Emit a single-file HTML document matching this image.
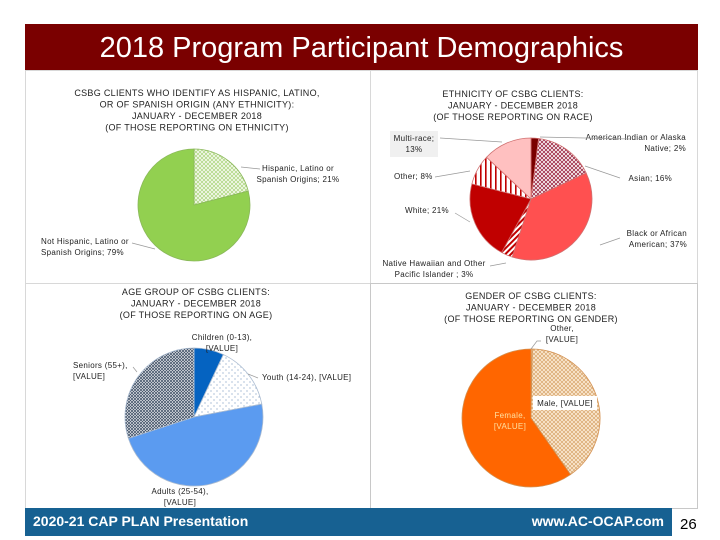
<!DOCTYPE html>
<html><head><meta charset="utf-8">
<style>
body{margin:0;width:720px;height:540px;background:#fff;position:relative;overflow:hidden;font-family:"Liberation Sans",sans-serif}
.abs{position:absolute}
#titlebar{left:25px;top:24px;width:673px;height:46px;background:#7a0000;color:#fff;font-size:29px;text-align:center;line-height:48px;border-bottom:2px solid #e8b0b0}
.panel{position:absolute;border:1px solid #d8d8d8;box-sizing:border-box;background:#fff}
#footer{left:25px;top:508px;width:647px;height:28px;background:#176192;color:#fff;font-weight:bold;font-size:14px}
</style></head><body>
<div id="titlebar" class="abs">2018 Program Participant Demographics</div>
<div class="panel" style="left:25px;top:70px;width:346px;height:214px"></div>
<div class="panel" style="left:370px;top:70px;width:328px;height:214px"></div>
<div class="panel" style="left:25px;top:283px;width:346px;height:226px"></div>
<div class="panel" style="left:370px;top:283px;width:328px;height:226px;border-color:#c8c8c8"></div>
<div id="footer" class="abs">
 <span class="abs" style="left:8px;top:5px">2020-21 CAP PLAN Presentation</span>
 <span class="abs" style="right:8px;top:5px">www.AC-OCAP.com</span>
</div>
<div class="abs" style="left:680px;top:516px;font-size:15px">26</div>

<svg id="charts" class="abs" style="left:0;top:0" width="720" height="540" font-family="Liberation Sans, sans-serif">
<defs>
 <pattern id="pGreenDots" width="4" height="4" patternUnits="userSpaceOnUse"><rect width="4" height="4" fill="#f2f8e8"/><path d="M0 0L4 4M4 0L0 4" stroke="#9fcf6a" stroke-width="0.6"/></pattern>
 <pattern id="pCheckRed" width="4" height="4" patternUnits="userSpaceOnUse"><rect width="4" height="4" fill="#fff"/><path d="M0 0L4 4M4 0L0 4" stroke="#a0304a" stroke-width="0.9"/></pattern>
 <pattern id="pVert" width="5" height="5" patternUnits="userSpaceOnUse"><rect width="5" height="5" fill="#fff"/><rect width="1.6" height="5" fill="#c00000"/></pattern>
 <pattern id="pDiag" width="4" height="4" patternUnits="userSpaceOnUse" patternTransform="rotate(45)"><rect width="4" height="4" fill="#fff"/><rect width="2" height="4" fill="#c00000"/></pattern>
 <pattern id="pDots" width="6" height="6" patternUnits="userSpaceOnUse"><rect width="6" height="6" fill="#fff"/><circle cx="1" cy="1" r="0.6" fill="#7a9cc0"/><circle cx="4" cy="4" r="0.6" fill="#7a9cc0"/></pattern>
 <pattern id="pCheckBlue" width="3" height="3" patternUnits="userSpaceOnUse"><rect width="3" height="3" fill="#fff"/><path d="M0 0L3 3M3 0L0 3" stroke="#44546a" stroke-width="0.8"/></pattern>
 <pattern id="pCheckTan" width="4" height="4" patternUnits="userSpaceOnUse"><rect width="4" height="4" fill="#fbe9d2"/><path d="M0 0L4 4M4 0L0 4" stroke="#d7a56b" stroke-width="0.7"/></pattern>
</defs>
<g id="g1"></g><g id="g2"></g><g id="g3"></g><g id="g4"></g>
</svg>

<script>
// Chart 1: Hispanic
const hispLabels = ["Hispanic, Latino or Spanish Origins; 21%", "Not Hispanic, Latino or Spanish Origins; 79%"];
const hispValues = [21, 79];
// Chart 2: Ethnicity
const ethLabels = ["American Indian or Alaska Native; 2%", "Asian; 16%", "Black or African American; 37%", "Native Hawaiian and Other Pacific Islander ; 3%", "White; 21%", "Other; 8%", "Multi-race; 13%"];
const ethValues = [2, 16, 37, 3, 21, 8, 13];
// Chart 3: Age
const ageLabels = ["Children (0-13), [VALUE]", "Youth (14-24), [VALUE]", "Adults (25-54), [VALUE]", "Seniors (55+), [VALUE]"];
const ageValues = [7, 15, 48, 30];
// Chart 4: Gender
const genLabels = ["Other, [VALUE]", "Male, [VALUE]", "Female, [VALUE]"];
const genValues = [0.3, 40, 59.7];

const NS = "http://www.w3.org/2000/svg";
function mk(tag, attrs, parent){const e=document.createElementNS(NS,tag);for(const k in attrs)e.setAttribute(k,attrs[k]);parent.appendChild(e);return e;}
function angleScale(values){const t=values.reduce((a,b)=>a+b,0);let c=0;return values.map(v=>{const a0=c/t*2*Math.PI;c+=v;return [a0,c/t*2*Math.PI];});}
function pt(cx,cy,r,a){return [cx+r*Math.sin(a),cy-r*Math.cos(a)];}
function drawPie(gid,cx,cy,r,values,fills,names,stroke){
 const g=document.getElementById(gid);
 angleScale(values).forEach(([a0,a1],i)=>{
  const p0=pt(cx,cy,r,a0),p1=pt(cx,cy,r,a1);const large=(a1-a0)>Math.PI?1:0;
  const p=mk("path",{d:`M${cx},${cy}L${p0[0]},${p0[1]}A${r},${r} 0 ${large} 1 ${p1[0]},${p1[1]}Z`,fill:fills[i],stroke:stroke,"stroke-width":"0.8"},g);
  
  
 });
}
function txt(gid,x,y,lines,anchor,opts){
 const g=document.getElementById(gid);
 const t=mk("text",{x:x,y:y,"font-size":(opts&&opts.size)||8,"text-anchor":anchor||"middle",fill:(opts&&opts.fill)||"#222","letter-spacing":"0.3"},g);
 lines.forEach((l,i)=>{const s=mk("tspan",{x:x,dy:i?((opts&&opts.lh)||11):0},t);s.textContent=l;});
 
 
 return t;
}
function line(gid,pts){const l=mk("polyline",{points:pts,fill:"none",stroke:"#999","stroke-width":"0.7"},document.getElementById(gid));}

// Chart 1
txt("g1",197,96,["CSBG CLIENTS WHO IDENTIFY AS HISPANIC, LATINO,","OR OF SPANISH ORIGIN (ANY ETHNICITY):","JANUARY - DECEMBER 2018","(OF THOSE REPORTING ON ETHNICITY)"],"middle",{size:9,lh:11.5,name:"hispanic-chart-title"});
drawPie("g1",194,205,56,hispValues,["url(#pGreenDots)","#92d050"],["slice-hispanic","slice-not-hispanic"],"#8ab85a");
txt("g1",298,171,["Hispanic, Latino or","Spanish Origins; 21%"],"middle",{name:"label-hispanic"});
txt("g1",41,244,["Not Hispanic, Latino or","Spanish Origins; 79%"],"start",{name:"label-not-hispanic"});
line("g1","241,167 260,169"); line("g1","132,243 155,249");

// Chart 2
txt("g2",513,97,["ETHNICITY OF CSBG CLIENTS:","JANUARY - DECEMBER 2018","(OF THOSE REPORTING ON RACE)"],"middle",{size:9,lh:11.5,name:"ethnicity-chart-title"});
drawPie("g2",531,199,61,ethValues,["#7a0000","url(#pCheckRed)","#ff5050","url(#pDiag)","#c00000","url(#pVert)","#ffc0c0"],["slice-american-indian","slice-asian","slice-black","slice-native-hawaiian","slice-white","slice-other","slice-multi-race"],"#d07070");
const mr=mk("rect",{x:390,y:131,width:48,height:26,fill:"#f0f0f0"},document.getElementById("g2"));
txt("g2",414,141,["Multi-race;","13%"],"middle",{name:"label-multi-race"});
txt("g2",686,140,["American Indian or Alaska","Native; 2%"],"end",{name:"label-american-indian"});
txt("g2",672,181,["Asian; 16%"],"end",{name:"label-asian"});
txt("g2",687,236,["Black or African","American; 37%"],"end",{name:"label-black"});
txt("g2",434,266,["Native Hawaiian and Other","Pacific Islander ; 3%"],"middle",{name:"label-native-hawaiian"});
txt("g2",405,213,["White; 21%"],"start",{name:"label-white"});
txt("g2",394,179,["Other; 8%"],"start",{name:"label-other"});
line("g2","440,138 502,142"); line("g2","540,137 630,139"); line("g2","585,166 620,178"); line("g2","600,245 620,238"); line("g2","455,213 470,222"); line("g2","435,177 470,171"); line("g2","490,266 506,263");

// Chart 3
txt("g3",196,295,["AGE GROUP OF CSBG CLIENTS:","JANUARY - DECEMBER 2018","(OF THOSE REPORTING ON AGE)"],"middle",{size:9,lh:11.5,name:"age-chart-title"});
drawPie("g3",194,417,69,ageValues,["#0563c1","url(#pDots)","#5b9bf0","url(#pCheckBlue)"],["slice-children","slice-youth","slice-adults","slice-seniors"],"#aabbd0");
txt("g3",222,340,["Children (0-13),","[VALUE]"],"middle",{name:"label-children"});
txt("g3",262,380,["Youth (14-24), [VALUE]"],"start",{name:"label-youth"});
txt("g3",73,368,["Seniors (55+),","[VALUE]"],"start",{name:"label-seniors"});
txt("g3",180,494,["Adults (25-54),","[VALUE]"],"middle",{name:"label-adults"});
line("g3","258,378 248,374"); line("g3","133,367 137,372");

// Chart 4
txt("g4",531,299,["GENDER OF CSBG CLIENTS:","JANUARY - DECEMBER 2018","(OF THOSE REPORTING ON GENDER)"],"middle",{size:9,lh:11.5,name:"gender-chart-title"});
drawPie("g4",531,418,69,genValues,["#ffd0a0","url(#pCheckTan)","#ff6600"],["slice-other","slice-male","slice-female"],"#d39050");
txt("g4",562,331,["Other,","[VALUE]"],"middle",{name:"label-other-gender"});
const mb=mk("rect",{x:533,y:396,width:64,height:14,fill:"#fff"},document.getElementById("g4"));
txt("g4",565,406,["Male, [VALUE]"],"middle",{name:"label-male"});
txt("g4",510,418,["Female,","[VALUE]"],"middle",{fill:"#ffe0a0",name:"label-female"});
line("g4","531,349 537,341 541,341");
</script>
</body></html>
